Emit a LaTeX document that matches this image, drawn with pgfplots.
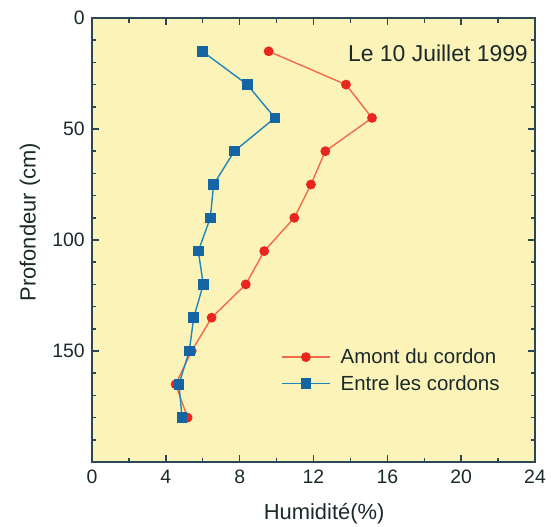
\documentclass[border=0pt]{standalone}
\usepackage{pgfplots}
\pgfplotsset{compat=1.18}
\usepackage{fontspec}
\setmainfont{Liberation Sans}
\definecolor{bgyel}{HTML}{FCF3B8}
\definecolor{axcol}{HTML}{2B4756}
\definecolor{txt}{HTML}{1A2A2A}
\definecolor{rline}{HTML}{F26A4A}
\definecolor{rmark}{HTML}{E8261E}
\definecolor{bline}{HTML}{1E86BE}
\definecolor{bmark}{HTML}{1565A5}
\begin{document}
\begin{tikzpicture}
\begin{axis}[
  scale only axis,
  width=443bp, height=444bp,
  xmin=0, xmax=24, ymin=0, ymax=200,
  y dir=reverse,
  axis on top,
  xtick={0,4,...,24}, minor xtick={2,6,...,22},
  ytick={0,50,100,150}, minor ytick={10,20,...,190},
  xtick align=inside, ytick align=inside,
  major tick length=7bp, minor tick length=4.5bp,
  axis line style={axcol, line width=1.2pt},
  major tick style={draw=axcol, line width=1.5pt},
  minor tick style={draw=axcol, line width=1.5pt},
  axis background/.style={fill=bgyel},
  tick label style={font=\fontsize{19.5}{22}\selectfont, text=txt},
  xticklabel style={inner sep=0pt, anchor=north, yshift=-8bp},
  yticklabel style={inner sep=0pt, anchor=east, xshift=-7bp},
  /pgf/number format/assume math mode=true,
  xlabel={Humidité(\%)}, ylabel={Profondeur (cm)},
  label style={font=\fontsize{22}{24}\selectfont, text=txt},
  xlabel style={at={(axis description cs:0.524,-0.13)}, anchor=base, inner sep=0pt},
  ylabel style={at={(axis description cs:-0.14,0.54)}, anchor=center, inner sep=0pt},
  legend style={draw=none, fill=none, at={(0.42,0.264)}, anchor=north west,
    font=\fontsize{20.5}{23}\selectfont, text=txt, row sep=6bp},
  legend cell align=left,
  legend image code/.code={%
    \draw[mark repeat=2, mark phase=2, #1] plot coordinates {(0bp,0bp) (24bp,0bp) (48bp,0bp)};
    \path (56bp,0bp);},
]
\addplot[rline, line width=1.4pt, mark=*, mark size=4.2pt,
  mark options={fill=rmark, draw=rmark}] coordinates {
  (9.57,15) (13.76,30) (15.17,45) (12.64,60) (11.86,75) (10.96,90)
  (9.33,105) (8.33,120) (6.48,135) (5.4,150) (4.53,165) (5.18,180)};
\addlegendentry{Amont du cordon}
\addplot[bline, line width=1.4pt, mark=square*, mark size=4.6pt,
  mark options={fill=bmark, draw=bmark}] coordinates {
  (5.98,15) (8.41,30) (9.91,45) (7.71,60) (6.59,75) (6.41,90)
  (5.76,105) (6.03,120) (5.51,135) (5.27,150) (4.71,165) (4.88,180)};
\addlegendentry{Entre les cordons}
\node[anchor=base east, inner sep=0pt, font=\fontsize{23}{25}\selectfont, text=txt]
  at (axis cs:23.62,19.8) {Le 10 Juillet 1999};
\end{axis}
\pgfresetboundingbox
\path ([shift={(-92bp,-65bp)}]current axis.south west) rectangle ([shift={(16bp,18bp)}]current axis.north east);
\end{tikzpicture}
\end{document}
